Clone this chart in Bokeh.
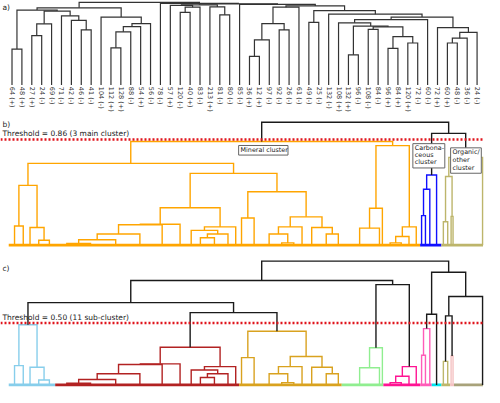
import math
from bokeh.plotting import figure
from bokeh.models import Range1d, Span, Label, BoxAnnotation
from bokeh.layouts import column
from bokeh.embed import file_html
from bokeh.resources import INLINE
from bokeh.core.properties import value

FONT = "DejaVu Sans"

# ---------------- panel a: 48 samples, hierarchical clustering ----------------
A_LABELS = ["64 (+)", "48 (+)", "27 (+)", "24 (-)", "69 (-)", "71 (-)", "42 (-)", "46 (-)",
            "41 (-)", "104 (-)", "112 (+)", "128 (+)", "88 (-)", "54 (+)", "56 (-)", "78 (-)",
            "57 (+)", "120 (-)", "40 (+)", "83 (-)", "213 (+)", "81 (-)", "80 (-)", "85 (-)",
            "36 (+)", "12 (+)", "97 (-)", "92 (-)", "26 (-)", "61 (-)", "49 (-)", "25 (-)",
            "132 (-)", "108 (+)", "132 (+)", "96 (-)", "108 (-)", "84 (-)", "96 (+)", "84 (+)",
            "120 (+)", "72 (-)", "60 (-)", "72 (+)", "60 (+)", "48 (-)", "36 (-)", "24 (-)"]
# linkage (scipy convention: ids >= 48 are earlier merges)
A_LEFT = [0, 2, 49, 7, 6, 5, 50, 48, 10, 56, 57, 58, 9, 55, 17, 62, 16, 21, 20, 64,
          24, 68, 27, 69, 71, 30, 34, 36, 38, 40, 76, 75, 74, 33, 81, 44, 83, 84, 43, 82,
          32, 73, 72, 23, 67, 15, 61]
A_RIGHT = [1, 3, 4, 8, 51, 52, 53, 54, 11, 12, 13, 14, 59, 60, 18, 19, 63, 22, 65, 66,
           25, 26, 28, 70, 29, 31, 35, 37, 39, 41, 77, 78, 79, 80, 42, 45, 46, 47, 85, 86,
           87, 88, 89, 90, 91, 92, 93]
A_HEIGHT = [0.434, 0.597, 0.741, 0.666, 0.783, 0.837, 0.895, 0.907, 0.450, 0.643,
            0.706, 0.744, 0.822, 0.934, 0.880, 0.942, 0.965, 0.849, 0.945, 0.971,
            0.345, 0.547, 0.666, 0.744, 0.942, 0.759, 0.364, 0.674, 0.442, 0.508,
            0.585, 0.703, 0.713, 0.752, 0.791, 0.508, 0.566, 0.636, 0.694, 0.822,
            0.857, 0.901, 0.957, 0.977, 0.983, 0.988, 1.000]

# ---------------- panels b / c: particle clusters (same tree) ----------------
# terminal groups (number of particles in each tightly merged group, left to right)
G_SIZE = [12, 6, 8, 10, 12,
          24, 25, 27, 23, 23, 14, 9, 10, 19, 9, 7,
          5, 21, 10, 16, 9, 8, 12, 18, 7,
          37, 4, 2,
          14, 9, 7, 8,
          3, 5, 4,
          10,
          4, 5,
          2, 2,
          1]
G_GAP = [0] * 40 + [29]
BC_LEFT = [0, 3, 2, 41, 5, 45, 46, 47, 48, 12, 50, 11, 52, 49, 16, 19, 18, 57, 23, 22,
           58, 55, 54, 44, 25, 65, 28, 67, 68, 66, 64, 32, 72, 73, 36, 38, 75, 77, 74, 71]
BC_RIGHT = [1, 4, 42, 43, 6, 7, 8, 9, 10, 13, 14, 51, 15, 53, 17, 20, 56, 21, 24, 59,
            60, 61, 62, 63, 26, 27, 29, 30, 31, 69, 70, 33, 34, 35, 37, 39, 76, 40, 78, 79]
BC_HEIGHT = [0.156, 0.040, 0.143, 0.486, 0.013, 0.044, 0.090, 0.165, 0.170, 0.060,
             0.090, 0.120, 0.148, 0.304, 0.220, 0.018, 0.090, 0.148, 0.090, 0.143,
             0.230, 0.434, 0.584, 0.665, 0.138, 0.300, 0.018, 0.070, 0.148, 0.810,
             0.844, 0.240, 0.455, 0.571, 0.190, 0.234, 0.558, 0.714, 0.910, 1.000]

B_THRESHOLD = 0.86
C_THRESHOLD = 0.50
B_TITLE = "Threshold = 0.86 (3 main cluster)"
C_TITLE = "Threshold = 0.50 (11 sub-cluster)"
B_COLORS = ["#FFA500", "#1010FF", "#BDB56B"]
C_COLORS = ["#87CEEB", "#B22222", "#D9A21F", "#90EE90", "#FF1493", "#FF5CB8",
            "#00E5EE", "#BDB76B", "#F4C2C2", "#A8A27A"]
BOX_LABELS = ["Mineral cluster", "Carbona-\nceous\ncluster", "Organic/\nother\ncluster"]

W = 484


def dendro(leaf_x, left, right, height, thr, palette, above):
    n = len(leaf_x)
    m = len(left)
    x = list(leaf_x) + [0.0] * m
    hh = [0.0] * n + list(height)
    for k in range(m):
        x[n + k] = (x[left[k]] + x[right[k]]) / 2.0
    col = [None] * (n + m)
    counter = [0]

    def visit(node, inh):
        if inh is None and hh[node] <= thr:
            inh = palette[counter[0] % len(palette)]
            counter[0] += 1
        col[node] = inh
        if node >= n:
            visit(left[node - n], inh)
            visit(right[node - n], inh)

    visit(n + m - 1, None)
    xs, ys, cs = [], [], []
    for k in range(m):
        node = n + k
        l, r = left[k], right[k]
        xs.append([x[l], x[l], x[r], x[r]])
        ys.append([hh[l], hh[node], hh[node], hh[r]])
        cs.append(col[node] if col[node] is not None else above)
    return xs, ys, cs, col[:n]


def make_fig(h_px, xr, yr):
    p = figure(width=W, height=h_px, x_range=Range1d(*xr), y_range=Range1d(*yr),
               output_backend="svg", toolbar_location=None, min_border=0,
               x_axis_location=None, y_axis_location=None)
    p.grid.visible = False
    p.outline_line_color = None
    p.background_fill_color = "white"
    p.border_fill_color = "white"
    return p


def add_label(p, x, y, text, size, baseline="alphabetic", color="#1a1a1a"):
    p.add_layout(Label(x=x, y=y, text=text, text_font=FONT, text_font_size=size,
                       text_color=color, text_align="left", text_baseline=baseline))


# ---------------- panel a ----------------
pa = make_fig(117, (-12 / 10.32, 47.75), (-34 / 86, 88 / 86))
a_x = list(range(len(A_LABELS)))
xs, ys, cs, _ = dendro(a_x, A_LEFT, A_RIGHT, A_HEIGHT, -1.0, ["#333333"], "#333333")
pa.multi_line(xs=xs, ys=ys, line_color=cs, line_width=1.2, line_join="miter")
pa.text(x=a_x, y=[-0.023] * len(a_x), text=A_LABELS, angle=-math.pi / 2,
        text_align="left", text_baseline="middle", text_font=value(FONT),
        text_font_size="6.5px", text_color="#333333")
add_label(pa, -0.97, 0.936, "a)", "7.5px")

# ---------------- group layout for b / c ----------------
starts, ends, centers = [], [], []
pos = 0
for i, s in enumerate(G_SIZE):
    pos += G_GAP[i]
    starts.append(pos)
    ends.append(pos + s - 1)
    centers.append(pos + (s - 1) / 2.0)
    pos += s


def draw_bc(p, thr, palette):
    xs, ys, cs, leaf_col = dendro(centers, BC_LEFT, BC_RIGHT, BC_HEIGHT, thr, palette, "#1a1a1a")
    # baseline spans coloured by cluster
    bx0, bx1, bc = [], [], []
    for i in range(len(G_SIZE)):
        x0 = starts[i] - 0.5 if i == 0 else ends[i - 1] + 0.5
        x1 = ends[i] + 0.5
        c = leaf_col[i] or "#1a1a1a"
        if bc and bc[-1] == c:
            bx1[-1] = x1
        else:
            bx0.append(x0); bx1.append(x1); bc.append(c)
    p.segment(x0=bx0, y0=[0] * len(bx0), x1=bx1, y1=[0] * len(bx0), line_color=bc,
              line_width=2.8)
    p.multi_line(xs=xs, ys=ys, line_color=cs, line_width=1.4, line_join="miter")
    p.add_layout(Span(location=thr, dimension="width", line_color="#E0141C",
                      line_width=2.6, line_dash="2 2"))


# ---------------- panel b ----------------
pb = make_fig(134, (-9, 491), (-6.7 / 128.3, 133.3 / 128.3))
draw_bc(pb, B_THRESHOLD, B_COLORS)
add_label(pb, -7, 0.984, "b)", "7.5px")
add_label(pb, -7, 0.905, B_TITLE, "7.5px")

boxes = [(237, 288, 0.811, 0.733, 239, [0.772]),
         (417, 450, 0.826, 0.628, 419, [0.7935, 0.7327, 0.6726]),
         (456, 487.7, 0.792, 0.585, 458, [0.7545, 0.692, 0.630])]
for (l, r, t, b, tx, tys), txt in zip(boxes, BOX_LABELS):
    pb.add_layout(BoxAnnotation(left=l, right=r, top=t, bottom=b, fill_color="white",
                                fill_alpha=1.0, line_color="#666666", line_width=1,
                                line_alpha=1.0))
    for ty, line in zip(tys, txt.split("\n")):
        add_label(pb, tx, ty, line, "6.4px", baseline="middle")

# ---------------- panel c ----------------
pc = make_fig(136, (-9, 491), (-2.7 / 128.3, 138.3 / 128.3))
draw_bc(pc, C_THRESHOLD, C_COLORS)
add_label(pc, -7, 0.938, "c)", "7.5px")
add_label(pc, -7, 0.545, C_TITLE, "7.5px")

layout = column(pa, pb, pc, spacing=0)
open("out.html", "w").write(file_html(layout, INLINE))
